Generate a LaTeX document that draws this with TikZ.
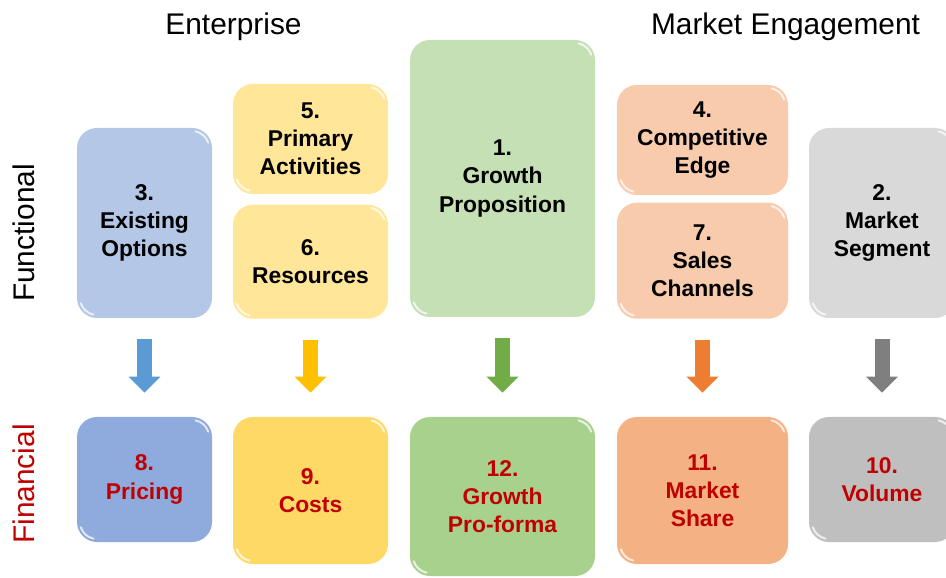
\documentclass[tikz,border=0pt]{standalone}
\usepackage{xcolor}
\usepackage{fontspec}
\setmainfont{Liberation Sans}
\usepackage{tikz}
\usetikzlibrary{positioning}
\usetikzlibrary{arrows.meta}

\definecolor{blueA}{HTML}{B4C7E7}
\definecolor{blueB}{HTML}{8FAADC}
\definecolor{blueC}{HTML}{5B9BD5}
\definecolor{yellowA}{HTML}{FFE699}
\definecolor{yellowB}{HTML}{FFD966}
\definecolor{yellowC}{HTML}{FFC000}
\definecolor{greenA}{HTML}{C5E0B4}
\definecolor{greenB}{HTML}{A9D18E}
\definecolor{greenC}{HTML}{70AD47}
\definecolor{orangeA}{HTML}{F8CBAD}
\definecolor{orangeB}{HTML}{F4B183}
\definecolor{orangeC}{HTML}{ED7D31}
\definecolor{greyA}{HTML}{D9D9D9}
\definecolor{greyB}{HTML}{BFBFBF}
\definecolor{greyC}{HTML}{7F7F7F}
\definecolor{finred}{HTML}{C00000}

\begin{document}
\begin{tikzpicture}
[ box/.style={rectangle, rounded corners=0.4cm, align=center, inner sep=0pt, font=\bfseries\fontsize{13}{16}\selectfont,
   path picture={\draw[white, opacity=0.75, line width=1.1pt, line cap=round]
     ([shift={(-0.4,-0.4)}]path picture bounding box.north east) ++(78:0.34) arc[start angle=78, end angle=18, radius=0.34]
     ([shift={(0.4,0.4)}]path picture bounding box.south west) ++(258:0.34) arc[start angle=258, end angle=198, radius=0.34];}},
 fin/.style={box, text=finred},
 head/.style={font=\fontsize{17}{20}\selectfont},
 arr/.style={line width=0.3cm, -{Triangle[length=0.32cm, width=0.62cm]}, shorten <=0.42cm, shorten >=0.48cm},]
\useasboundingbox (0,0) rectangle (18.92,-11.56);

% column and row headings
\node[head] (EN) at (4.67,-0.53) {Enterprise};
\node[head] (ME) at (15.71,-0.53) {Market Engagement};
\node[head, rotate=90] (FU) at (0.48,-4.66) {Functional};
\node[head, rotate=90, text=finred] (FI) at (0.48,-9.68) {Financial};

% functional row
\node[box, fill=blueA, minimum width=2.7cm, minimum height=3.8cm] (B3) at (2.89,-4.46) {3.\\ Existing\\ Options};
\node[box, fill=yellowA, minimum width=3.1cm, minimum height=2.2cm] (B5) at (6.21,-2.78) {5.\\ Primary\\ Activities};
\node[box, fill=yellowA, minimum width=3.1cm, minimum height=2.28cm] (B6) [below=0.2cm of B5] {6.\\ Resources};
\node[box, fill=greenA, minimum width=3.7cm, minimum height=5.54cm] (B1) at (10.05,-3.57) {1.\\ Growth\\ Proposition};
\node[box, fill=orangeA, minimum width=3.42cm, minimum height=2.2cm] (B4) at (14.05,-2.8) {4.\\ Competitive\\ Edge};
\node[box, fill=orangeA, minimum width=3.42cm, minimum height=2.32cm] (B7) [below=0.14cm of B4] {7.\\ Sales\\ Channels};
\node[box, fill=greyA, minimum width=2.92cm, minimum height=3.8cm] (B2) at (17.64,-4.46) {2.\\ Market\\ Segment};

% financial row
\node[fin, fill=blueB, minimum width=2.7cm, minimum height=2.5cm] (B8) at (2.89,-9.59) {8.\\ Pricing};
\node[fin, fill=yellowB, minimum width=3.1cm, minimum height=2.94cm] (B9) at (6.21,-9.81) {9.\\ Costs};
\node[fin, fill=greenB, minimum width=3.7cm, minimum height=3.18cm] (B12) at (10.05,-9.93) {12.\\ Growth\\ Pro-forma};
\node[fin, fill=orangeB, minimum width=3.42cm, minimum height=2.94cm] (B11) at (14.05,-9.81) {11.\\ Market\\ Share};
\node[fin, fill=greyB, minimum width=2.92cm, minimum height=2.5cm] (B10) at (17.64,-9.59) {10.\\ Volume};

\draw[arr, draw=blueC] (B3) -- (B8);
\draw[arr, draw=yellowC] (B6) -- (B9);
\draw[arr, draw=greenC] (B1) -- (B12);
\draw[arr, draw=orangeC] (B7) -- (B11);
\draw[arr, draw=greyC] (B2) -- (B10);
\end{tikzpicture}
\end{document}
